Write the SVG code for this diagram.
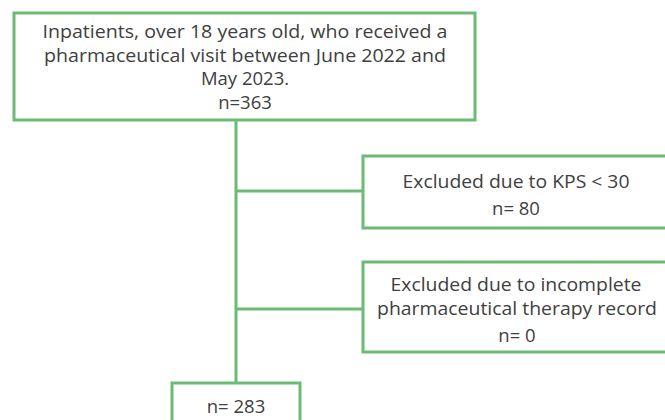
<svg xmlns="http://www.w3.org/2000/svg" width="665" height="420" viewBox="0 0 665 420">
<style>
.box{fill:#fff;stroke:#6bbb77;stroke-width:3}
.ln{stroke:#6bbb77;stroke-width:3;fill:none}
text{font-family:"Open Sans","Liberation Sans",sans-serif;font-size:18.5px;fill:#404040;text-anchor:middle}
</style>
<rect width="665" height="420" fill="#fff"/>
<g id="connectors">
<path class="ln" d="M236 120V383M236 191H363M236 309H363"/>
</g>
<g id="n1">
<rect class="box" x="14" y="13" width="461" height="107"/>
<text x="245" y="38" textLength="405" lengthAdjust="spacingAndGlyphs">Inpatients, over 18 years old, who received a</text>
<text x="245" y="62" textLength="402" lengthAdjust="spacingAndGlyphs">pharmaceutical visit between June 2022 and</text>
<text x="245" y="85">May 2023.</text>
<text x="245" y="109">n=363</text>
</g>
<g id="n2">
<rect class="box" x="363" y="156" width="310" height="72"/>
<text x="516" y="188" textLength="227" lengthAdjust="spacingAndGlyphs">Excluded due to KPS &lt; 30</text>
<text x="516" y="215">n= 80</text>
</g>
<g id="n3">
<rect class="box" x="363" y="262" width="310" height="90"/>
<text x="516" y="291" textLength="251" lengthAdjust="spacingAndGlyphs">Excluded due to incomplete</text>
<text x="517" y="315" textLength="280" lengthAdjust="spacingAndGlyphs">pharmaceutical therapy record</text>
<text x="517" y="342">n= 0</text>
</g>
<g id="n4">
<rect class="box" x="172" y="383" width="128" height="50"/>
<text x="236" y="413">n= 283</text>
</g>
</svg>
